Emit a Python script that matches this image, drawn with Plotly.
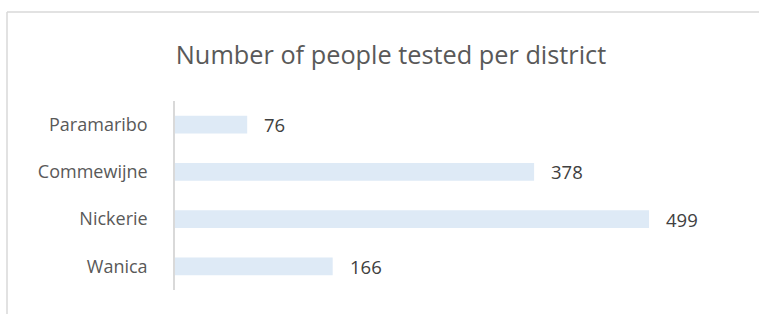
import plotly.graph_objects as go

districts = ["Paramaribo", "Commewijne", "Nickerie", "Wanica"]
tested = [76, 378, 499, 166]

W, H = 759, 314
L, R, T, B = 175, 14, 101, 24
pw = W - L - R
ph = H - T - B

fig = go.Figure(go.Bar(
    y=districts, x=tested, orientation="h",
    marker=dict(color="#DEEAF6", line=dict(width=0)),
    width=0.38, hoverinfo="skip",
))

for d, v in zip(districts, tested):
    fig.add_annotation(x=v, y=d, text=str(v), showarrow=False, xanchor="left",
                       xshift=15, font=dict(family="Open Sans", size=18.5, color="#404040"))

# chart border (left and top)
bx = (7 - L) / pw
by = (H - B - 12) / ph
fig.add_shape(type="line", xref="paper", yref="paper", x0=bx, x1=bx, y0=by, y1=-0.2,
              line=dict(color="#D9D9D9", width=1.5))
fig.add_shape(type="line", xref="paper", yref="paper", x0=bx, x1=1.1, y0=by, y1=by,
              line=dict(color="#D9D9D9", width=1.5))

fig.update_layout(
    width=W, height=H,
    margin=dict(l=L, r=R, t=T, b=B),
    paper_bgcolor="white", plot_bgcolor="white",
    showlegend=False,
    title=dict(text="Number of people tested per district", x=391 / W, xanchor="center",
               y=1 - 55 / H, yanchor="middle", yref="container",
               font=dict(family="Open Sans", size=25.3, color="#595959")),
    xaxis=dict(range=[0, 600], showgrid=False, zeroline=False, showticklabels=False,
               showline=False, fixedrange=True),
    yaxis=dict(autorange="reversed", showline=True, linecolor="#D9D9D9", linewidth=1.5,
               ticks="", ticklabelstandoff=22, fixedrange=True,
               tickfont=dict(family="Open Sans", size=18, color="#595959"), showgrid=False),
)

fig.write_html("out.html", config={"displayModeBar": False},
               post_script="document.body.style.margin='0';")
